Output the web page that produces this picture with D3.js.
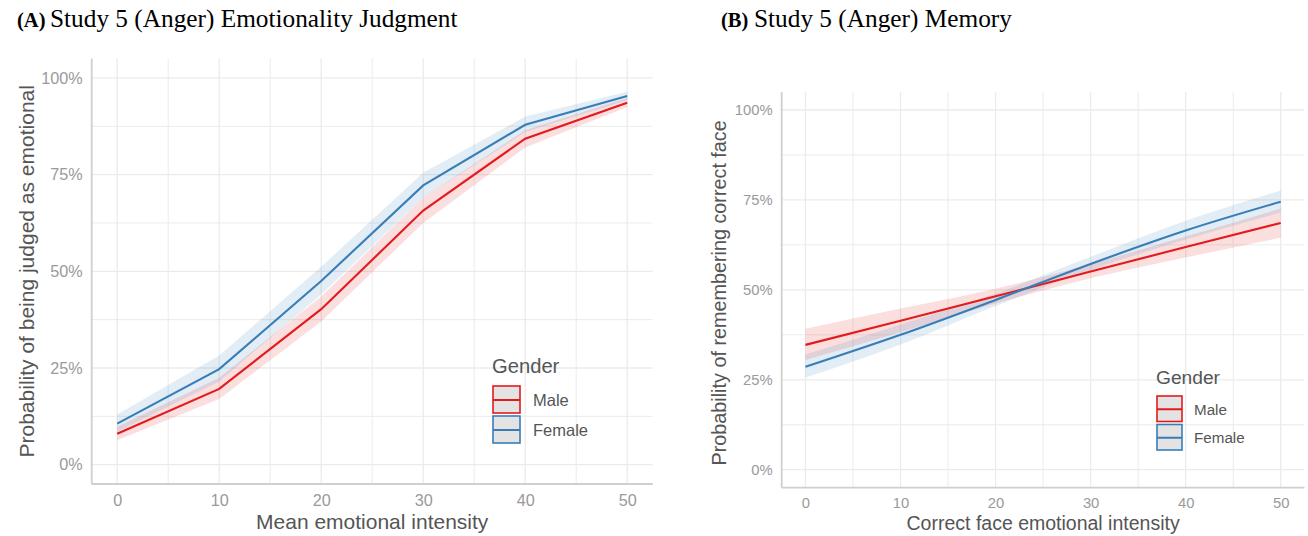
<!DOCTYPE html>
<html><head><meta charset="utf-8">
<script src="https://cdn.jsdelivr.net/npm/d3@7"></script>
<style>body{margin:0;background:#fff}svg{display:block}</style>
</head><body>
<svg id="chart" width="1308" height="536"></svg>
<script>
// ---------- data ----------
const xTicks = [0, 10, 20, 30, 40, 50];
const yTicks = [0, 0.25, 0.5, 0.75, 1];
const seriesNames = ["Male", "Female"];

// Panel A: Emotionality judgment
const judgX = [0, 10, 20, 30, 40, 50];
const judgMale = [0.080, 0.196, 0.402, 0.657, 0.843, 0.936];
const judgMaleLo = [0.063, 0.170, 0.370, 0.625, 0.820, 0.925];
const judgMaleHi = [0.098, 0.225, 0.435, 0.690, 0.865, 0.948];
const judgFemale = [0.106, 0.247, 0.475, 0.722, 0.879, 0.953];
const judgFemaleLo = [0.085, 0.215, 0.440, 0.690, 0.860, 0.942];
const judgFemaleHi = [0.130, 0.282, 0.512, 0.755, 0.900, 0.964];

// Panel B: Memory
const memX = [0, 10, 20, 30, 40, 50];
const memMale = [0.347, 0.414, 0.482, 0.551, 0.619, 0.686];
const memMaleLo = [0.305, 0.382, 0.462, 0.532, 0.590, 0.645];
const memMaleHi = [0.392, 0.448, 0.503, 0.572, 0.648, 0.726];
const memFemale = [0.286, 0.375, 0.472, 0.572, 0.665, 0.745];
const memFemaleLo = [0.256, 0.348, 0.455, 0.555, 0.640, 0.715];
const memFemaleHi = [0.320, 0.404, 0.490, 0.592, 0.692, 0.776];

const colors = {Male: "#e41a1c", Female: "#377eb8"};

const svg = d3.select("#chart");

function drawPanel(cfg) {
  const x = d3.scaleLinear().domain([-2.5, 52.5]).range(cfg.xr);
  const y = d3.scaleLinear().domain([-0.05, 1.05]).range(cfg.yr);
  const g = svg.append("g");
  const x0 = cfg.xr[0], x1 = cfg.xr[1], y0 = cfg.yr[0], y1 = cfg.yr[1];

  // grid (minor + major)
  const xGrid = d3.range(0, 51, 5);
  const yGrid = d3.range(0, 1.001, 0.125);
  g.selectAll(".vg").data(xGrid).join("line")
    .attr("x1", d => x(d)).attr("x2", d => x(d)).attr("y1", y0).attr("y2", y1)
    .attr("stroke", "#ebebeb").attr("stroke-width", d => d % 10 === 0 ? 1.3 : 1);
  g.selectAll(".hg").data(yGrid).join("line")
    .attr("x1", x0).attr("x2", x1).attr("y1", d => y(d)).attr("y2", d => y(d))
    .attr("stroke", "#ebebeb").attr("stroke-width", (d, i) => i % 2 === 0 ? 1.3 : 1);

  // ribbons & lines
  const series = cfg.series;
  const area = d3.area().x((d) => x(d.x)).y0(d => y(d.lo)).y1(d => y(d.hi)).curve(cfg.curve);
  const line = d3.line().x(d => x(d.x)).y(d => y(d.v)).curve(cfg.curve);
  series.forEach(s => {
    const pts = cfg.xs.map((xv, i) => ({x: xv, v: s.v[i], lo: s.lo[i], hi: s.hi[i]}));
    g.append("path").datum(pts).attr("d", area)
      .attr("fill", colors[s.name]).attr("fill-opacity", 0.14);
  });
  series.forEach(s => {
    const pts = cfg.xs.map((xv, i) => ({x: xv, v: s.v[i]}));
    g.append("path").datum(pts).attr("d", line)
      .attr("fill", "none").attr("stroke", colors[s.name]).attr("stroke-width", 2.1);
  });

  // axis lines
  g.append("line").attr("x1", x0).attr("x2", x0).attr("y1", y0).attr("y2", y1)
    .attr("stroke", "#cfcfcf").attr("stroke-width", 1.8);
  g.append("line").attr("x1", x0).attr("x2", x1).attr("y1", y0).attr("y2", y0)
    .attr("stroke", "#cfcfcf").attr("stroke-width", 1.8);

  // tick labels
  const ax = g.append("g").attr("transform", `translate(0,${y0})`)
    .call(d3.axisBottom(x).tickValues(xTicks).tickSize(0).tickPadding(cfg.xPad));
  ax.select(".domain").remove();
  ax.selectAll("text").attr("fill", "#9a9a9a").style("font-family", "Liberation Sans, Arial, sans-serif")
    .style("font-size", cfg.tickSize + "px");
  const ay = g.append("g").attr("transform", `translate(${x0},0)`)
    .call(d3.axisLeft(y).tickValues(yTicks).tickFormat(d3.format(".0%")).tickSize(0).tickPadding(cfg.yPad));
  ay.select(".domain").remove();
  ay.selectAll("text").attr("fill", "#9a9a9a").style("font-family", "Liberation Sans, Arial, sans-serif")
    .style("font-size", cfg.tickSize + "px");

  // axis titles
  g.append("text").attr("x", (x0 + x1) / 2).attr("y", cfg.xTitleY)
    .attr("text-anchor", "middle").attr("fill", "#555")
    .style("font-family", "Liberation Sans, Arial, sans-serif").style("font-size", cfg.xTitleSize + "px")
    .text(cfg.xTitle);
  g.append("text").attr("transform", `translate(${cfg.yTitleX},${(y0 + y1) / 2 + cfg.yTitleShift}) rotate(-90)`)
    .attr("text-anchor", "middle").attr("dy", "0.35em").attr("fill", "#555")
    .style("font-family", "Liberation Sans, Arial, sans-serif").style("font-size", cfg.yTitleSize + "px")
    .text(cfg.yTitle);

  // panel heading
  g.append("text").attr("x", cfg.headX).attr("y", 27)
    .style("font-family", "Liberation Serif, Times New Roman, serif").attr("fill", "#000")
    .attr("font-weight", "bold").style("font-size", "20.5px").text(cfg.tag);
  g.append("text").attr("x", cfg.headX + 33).attr("y", 27)
    .style("font-family", "Liberation Serif, Times New Roman, serif").attr("fill", "#000")
    .style("font-size", "25.3px").text(cfg.heading);

  // legend
  const L = cfg.legend;
  const lg = g.append("g").attr("transform", `translate(${L.x},${L.y})`);
  lg.append("text").attr("x", 0).attr("y", 0).attr("dy", "0.35em").attr("fill", "#555")
    .style("font-family", "Liberation Sans, Arial, sans-serif").style("font-size", L.titleSize + "px").text("Gender");
  seriesNames.forEach((n, i) => {
    const ky = L.keyTop + i * L.keyH;
    lg.append("rect").attr("x", 1).attr("y", ky + 1).attr("width", L.keyW - 2).attr("height", L.keyH - 3)
      .attr("fill", "#e3e3e3").attr("stroke", colors[n]).attr("stroke-width", 1.6);
    lg.append("line").attr("x1", 1).attr("x2", L.keyW - 1).attr("y1", ky + L.keyH / 2).attr("y2", ky + L.keyH / 2)
      .attr("stroke", colors[n]).attr("stroke-width", 2);
    lg.append("text").attr("x", L.keyW + L.labGap).attr("y", ky + L.keyH / 2).attr("dy", "0.35em")
      .attr("fill", "#555").style("font-family", "Liberation Sans, Arial, sans-serif")
      .style("font-size", L.labSize + "px").text(n);
  });
}

drawPanel({
  xr: [91.7, 652.7], yr: [484, 58.6], xs: judgX, curve: d3.curveLinear,
  series: [
    {name: "Male", v: judgMale, lo: judgMaleLo, hi: judgMaleHi},
    {name: "Female", v: judgFemale, lo: judgFemaleLo, hi: judgFemaleHi}
  ],
  xPad: 10, yPad: 9, tickSize: 16.2, xTitleSize: 21, yTitleSize: 21,
  xTitle: "Mean emotional intensity", xTitleY: 529,
  yTitle: "Probability of being judged as emotional", yTitleX: 27, yTitleShift: 0,
  headX: 17, tag: "(A)", heading: "Study 5 (Anger) Emotionality Judgment",
  legend: {x: 492, y: 366, keyTop: 19, keyW: 29, keyH: 30, labGap: 12, titleSize: 20.2, labSize: 16.5}
});

drawPanel({
  xr: [781.7, 1304.5], yr: [487.7, 92], xs: memX, curve: d3.curveMonotoneX,
  series: [
    {name: "Male", v: memMale, lo: memMaleLo, hi: memMaleHi},
    {name: "Female", v: memFemale, lo: memFemaleLo, hi: memFemaleHi}
  ],
  xPad: 10, yPad: 9, tickSize: 14.8, xTitleSize: 19.5, yTitleSize: 19.8,
  xTitle: "Correct face emotional intensity", xTitleY: 530,
  yTitle: "Probability of remembering correct face", yTitleX: 719, yTitleShift: 3,
  headX: 721, tag: "(B)", heading: "Study 5 (Anger) Memory",
  legend: {x: 1156, y: 377, keyTop: 18, keyW: 27, keyH: 28.5, labGap: 11, titleSize: 19.2, labSize: 15.2}
});
</script>
</body></html>
